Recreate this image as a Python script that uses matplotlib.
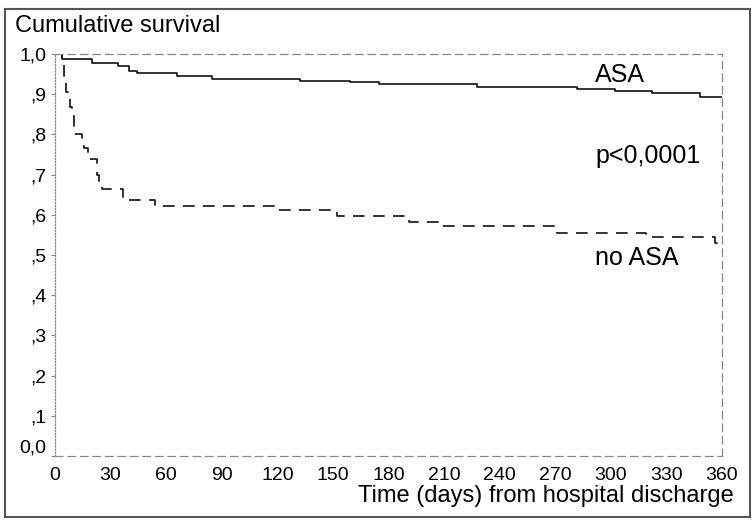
import matplotlib.pyplot as plt
from matplotlib.patches import Rectangle
from matplotlib.transforms import ScaledTranslation

plt.rcParams["font.family"] = ["Liberation Sans", "DejaVu Sans"]

# Kaplan-Meier step points (days, cumulative survival)
asa_days = [0, 4, 20, 34, 40, 44, 66, 85, 132, 159, 175, 228, 282, 302, 322, 348, 360]
asa_surv = [1.0, 0.987, 0.977, 0.971, 0.958, 0.952, 0.946, 0.937, 0.933, 0.931,
            0.925, 0.918, 0.912, 0.908, 0.904, 0.894, 0.894]

noasa_days = [0, 4, 5, 5.8, 7, 8, 9, 10, 14.4, 15.8, 18, 22.5, 23.5, 25.5, 36.5,
              54, 119, 152, 191, 208, 271, 319, 356, 360]
noasa_surv = [1.0, 0.98, 0.945, 0.905, 0.888, 0.868, 0.845, 0.80, 0.777, 0.765,
              0.74, 0.70, 0.685, 0.665, 0.637, 0.622, 0.612, 0.597, 0.582, 0.572,
              0.555, 0.545, 0.53, 0.53]

x_ticks = [0, 30, 60, 90, 120, 150, 180, 210, 240, 270, 300, 330, 360]
y_ticks = [0.0, 0.1, 0.2, 0.3, 0.4, 0.5, 0.6, 0.7, 0.8, 0.9, 1.0]
y_labels = ["0,0", ",1", ",2", ",3", ",4", ",5", ",6", ",7", ",8", ",9", "1,0"]

fig = plt.figure(figsize=(7.54, 5.20), dpi=100)
ax = fig.add_axes([55 / 754, 1 - 456 / 520, 667 / 754, 402 / 520])

# Curves
ax.step(asa_days, asa_surv, where="post", color="#111111", lw=1.2)
ax.step(noasa_days, noasa_surv, where="post", color="#111111", lw=1.2,
        linestyle=(0, (7, 5)))

ax.set_xlim(0, 360)
ax.set_ylim(0, 1.0)
ax.set_xticks(x_ticks)
ax.set_xticklabels([str(t) for t in x_ticks], fontsize=14)
ax.set_yticks(y_ticks)
ax.set_yticklabels(y_labels, fontsize=14)
ax.tick_params(axis="x", length=0, pad=8)
ax.tick_params(axis="y", length=3, width=0.8, color="#888888", pad=3)

# lift the 0,0 label a bit like the original
lbl = ax.get_yticklabels()[0]
lbl.set_transform(lbl.get_transform() + ScaledTranslation(0, 0.1, fig.dpi_scale_trans))

# Scanned-looking frame
for side in ["top", "right", "bottom", "left"]:
    ax.spines[side].set_color("#888888")
    ax.spines[side].set_linewidth(0.9)
    ax.spines[side].set_linestyle((0, (6, 4)))
ax.spines["left"].set_linestyle((0, (1, 1.5)))

# Annotations
ax.text(291.5, 0.93, "ASA", fontsize=18, ha="left", va="baseline")
ax.text(291.5, 0.73, "p<0,0001", fontsize=18, ha="left", va="baseline")
ax.text(291.5, 0.475, "no ASA", fontsize=18, ha="left", va="baseline")

fig.text(15 / 754, 1 - 32 / 520, "Cumulative survival", fontsize=17,
         ha="left", va="baseline")
fig.text(734 / 754, 1 - 502 / 520, "Time (days) from hospital discharge",
         fontsize=17, ha="right", va="baseline")

# Outer border
fig.patches.append(Rectangle((5 / 754, 3 / 520), 745 / 754, 508 / 520,
                             transform=fig.transFigure, fill=False,
                             edgecolor="#555555", lw=1.5))

fig.savefig("out.png", dpi=100)
plt.close(fig)
